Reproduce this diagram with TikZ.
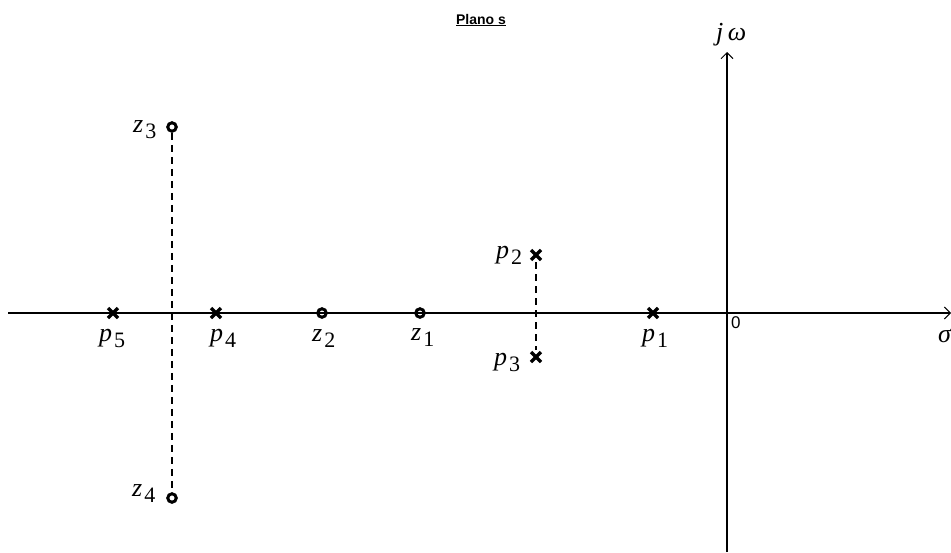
\documentclass[tikz,border=0pt]{standalone}
\usepackage{fontspec}
\setmainfont{Liberation Serif}
\newfontfamily\headfont{Liberation Sans}
\usetikzlibrary{arrows.meta}
\newcommand{\lab}[2]{{\itshape #1}\hspace{2pt}\raisebox{-6pt}{\fontsize{22}{25}\selectfont #2}}
\tikzset{
  pole/.style={inner sep=0pt, minimum size=14pt, path picture={
      \draw[line width=3.2pt] (path picture bounding box.south west) ++(2pt,2pt) -- ++(10pt,10pt);
      \draw[line width=3.2pt] (path picture bounding box.north west) ++(2pt,-2pt) -- ++(10pt,-10pt);}},
  zero/.style={circle, draw, line width=3pt, inner sep=0pt, minimum size=8.5pt},
  lbl/.style={font=\fontsize{26}{29}\selectfont, inner sep=0pt, anchor=base west},
  axis/.style={line width=1.4pt, -{Straight Barb[length=6pt,width=12pt,line width=1pt]}},
  link/.style={line width=1.3pt, dash pattern=on 7pt off 5pt}
}
\begin{document}
\begin{tikzpicture}[x=1pt,y=-1pt]
\useasboundingbox (0,0) rectangle (951,552);
% axes
\coordinate (xl) at (8,313);
\coordinate (xr) at (951,313);
\coordinate (yb) at (727,552);
\coordinate (yt) at (727,52);
\draw[axis] (xl) -- (xr);
\draw[axis] (yb) -- (yt);
\node[lbl] (jw) at (716,40) {\itshape j\,ω};
\node[lbl] (sig) at (938,342) {\itshape σ};
\node[font=\headfont\fontsize{17}{19}\selectfont, anchor=north west, inner sep=0pt] (o) at (731,316) {0};
\node[font=\headfont\bfseries\fontsize{14}{16}\selectfont, inner sep=1pt] (title) at (481,20) {\underline{Plano s}};
% poles and zeros
\node[pole] (p5) at (113,313) {};
\node[pole] (p4) at (216,313) {};
\node[pole] (p2) at (536,255) {};
\node[pole] (p3) at (536,357) {};
\node[pole] (p1) at (653,313) {};
\node[zero] (z3) at (172,127) {};
\node[zero] (z4) at (172,498) {};
\node[zero] (z2) at (322,313) {};
\node[zero] (z1) at (420,313) {};
% dashed links
\draw[link] (z3) -- (z4);
\draw[link] (p2) -- (p3);
% labels
\node[lbl] (lp5) at (99,341) {\lab{p}{5}};
\node[lbl] (lp4) at (210,341) {\lab{p}{4}};
\node[lbl] (lz2) at (312,341) {\lab{z}{2}};
\node[lbl] (lz1) at (411,340) {\lab{z}{1}};
\node[lbl] (lp1) at (642,341) {\lab{p}{1}};
\node[lbl] (lp2) at (496,258) {\lab{p}{2}};
\node[lbl] (lp3) at (494,365) {\lab{p}{3}};
\node[lbl] (lz3) at (133,132) {\lab{z}{3}};
\node[lbl] (lz4) at (132,496) {\lab{z}{4}};
\end{tikzpicture}
\end{document}
